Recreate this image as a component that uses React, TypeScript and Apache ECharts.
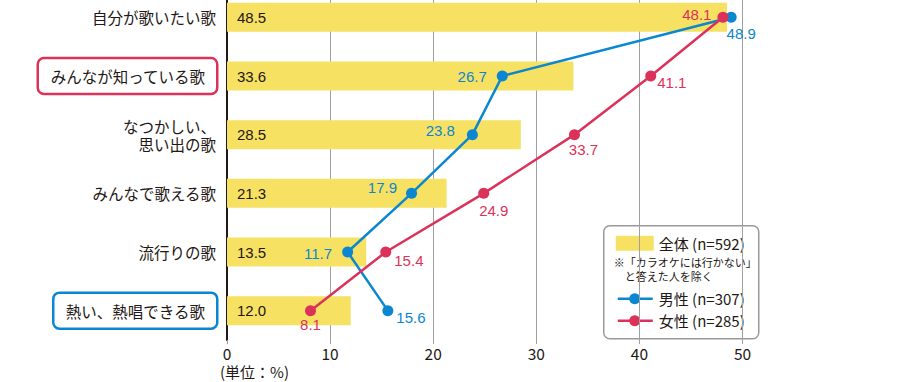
import React, { useEffect, useRef } from 'react';
import * as echarts from 'echarts';

const categories = [
  '自分が歌いたい歌',
  'みんなが知っている歌',
  'なつかしい、\n思い出の歌',
  'みんなで歌える歌',
  '流行りの歌',
  '熱い、熱唱できる歌',
];
const totalValues = [48.5, 33.6, 28.5, 21.3, 13.5, 12.0];
const maleValues = [48.9, 26.7, 23.8, 17.9, 11.7, 15.6];
const femaleValues = [48.1, 41.1, 33.7, 24.9, 15.4, 8.1];
const xTicks = [0, 10, 20, 30, 40, 50];
const legendNames = ['全体 (n=592)', '男性 (n=307)', '女性 (n=285)'];
const legendNote = ['※「カラオケには行かない」', '　と答えた人を除く'];
const unitLabel = '(単位：%)';
const redBoxCategory = 'みんなが知っている歌';
const blueBoxCategory = '熱い、熱唱できる歌';

const YELLOW = '#F6E163';
const BLUE = '#0B86D1';
const RED = '#DC3259';
const TEXT = '#231815';
const JP = "'Noto Sans CJK JP', 'Noto Sans', sans-serif";
const NUM = "'Liberation Sans', Arial, sans-serif";
const SHIFT = 20; // chart canvas starts 20px above the page top

// label placement styles (not data)
const maleLabelStyle = [
  { position: 'bottom', distance: 3, offset: [10, 0] },
  { position: 'left', distance: 10, offset: [0, 0] },
  { position: 'left', distance: 12, offset: [0, -4] },
  { position: 'left', distance: 9, offset: [0, -6] },
  { position: 'left', distance: 10, offset: [0, 1] },
  { position: 'right', distance: 3, offset: [0, 7] },
];
const femaleLabelStyle = [
  { position: 'left', distance: 6, offset: [0, -3] },
  { position: 'right', distance: 1, offset: [0, 6] },
  { position: 'bottom', distance: 2, offset: [9, 0] },
  { position: 'bottom', distance: 4, offset: [10, 0] },
  { position: 'right', distance: 3, offset: [0, 8] },
  { position: 'bottom', distance: 1, offset: [0, 0] },
];

export default function App() {
  const ref = useRef<HTMLDivElement>(null);
  useEffect(() => {
    document.body.style.margin = '0';
    if (!ref.current) return;
    const chart = echarts.init(ref.current, undefined, { renderer: 'svg' });
    const lx = 603;
    const ly = 225 + SHIFT;
    const option: any = {
      animation: false,
      backgroundColor: '#ffffff',
      grid: { left: 227, right: 157.5, top: SHIFT - 12, bottom: 42, containLabel: false },
      xAxis: {
        type: 'value',
        min: xTicks[0],
        max: xTicks[xTicks.length - 1],
        interval: 10,
        axisLine: { show: false },
        axisTick: { show: true, length: 4, lineStyle: { color: '#A0A0A0', width: 1 } },
        splitLine: { show: true, lineStyle: { color: '#A0A0A0', width: 1 } },
        axisLabel: {
          color: TEXT,
          fontFamily: JP,
          fontSize: 15.5,
          lineHeight: 15,
          margin: 5,
        },
      },
      yAxis: {
        type: 'category',
        data: categories,
        inverse: true,
        axisLine: { show: true, lineStyle: { color: TEXT, width: 2 } },
        axisTick: { show: false },
        splitLine: { show: false },
        axisLabel: {
          color: TEXT,
          fontFamily: JP,
          fontSize: 15.5,
          lineHeight: 18,
          margin: 11,
          formatter: (v: string) =>
            v === redBoxCategory ? `{r|${v}}` : v === blueBoxCategory ? `{b|${v}}` : v,
          rich: {
            r: {
              color: TEXT,
              fontFamily: JP,
              fontSize: 15.5,
              lineHeight: 18,
              borderColor: RED,
              borderWidth: 2.5,
              borderRadius: 5,
              backgroundColor: '#fff',
              padding: [9, 11, 9, 11],
            },
            b: {
              color: TEXT,
              fontFamily: JP,
              fontSize: 15.5,
              lineHeight: 18,
              borderColor: BLUE,
              borderWidth: 2.5,
              borderRadius: 5,
              backgroundColor: '#fff',
              padding: [9, 11, 9, 11],
            },
          },
        },
      },
      series: [
        {
          type: 'bar',
          data: totalValues,
          barWidth: 29,
          itemStyle: { color: YELLOW },
          z: 2,
          label: {
            show: true,
            position: 'insideLeft',
            distance: 10,
            color: TEXT,
            fontFamily: NUM,
            fontSize: 15,
            formatter: (p: any) => Number(p.value).toFixed(1),
          },
        },
        {
          type: 'line',
          data: maleValues.map((v, i) => ({
            value: v,
            label: { ...maleLabelStyle[i] },
          })),
          symbol: 'circle',
          symbolSize: 11,
          lineStyle: { color: BLUE, width: 2.5 },
          itemStyle: { color: BLUE },
          z: 4,
          label: {
            show: true,
            color: BLUE,
            fontFamily: NUM,
            fontSize: 15,
            formatter: (p: any) => Number(p.value).toFixed(1),
          },
        },
        {
          type: 'line',
          data: femaleValues.map((v, i) => ({
            value: v,
            label: { ...femaleLabelStyle[i] },
          })),
          symbol: 'circle',
          symbolSize: 11,
          lineStyle: { color: RED, width: 2.5 },
          itemStyle: { color: RED },
          z: 5,
          label: {
            show: true,
            color: RED,
            fontFamily: NUM,
            fontSize: 15,
            formatter: (p: any) => Number(p.value).toFixed(1),
          },
        },
      ],
      graphic: [
        {
          type: 'text',
          x: 220,
          y: 371.5 + SHIFT,
          style: {
            text: unitLabel,
            fill: TEXT,
            font: `15px ${JP}`,
            lineHeight: 15,
            verticalAlign: 'middle',
          },
        },
        {
          type: 'group',
          left: lx,
          top: ly,
          z: 10,
          children: [
            {
              type: 'rect',
              shape: { x: 0, y: 0, width: 155, height: 113, r: 6 },
              style: { fill: '#fff', stroke: '#9A9A9A', lineWidth: 1.5 },
            },
            {
              type: 'rect',
              shape: { x: 12, y: 10, width: 38, height: 15 },
              style: { fill: YELLOW },
            },
            {
              type: 'text',
              x: 55,
              y: 17.5,
              style: { text: legendNames[0], fill: TEXT, font: `15px ${JP}`, verticalAlign: 'middle' },
            },
            {
              type: 'text',
              x: 10,
              y: 36,
              style: {
                text: legendNote[0],
                fill: TEXT,
                font: `11px ${JP}`,
                lineHeight: 11,
                verticalAlign: 'middle',
              },
            },
            {
              type: 'text',
              x: 10,
              y: 50,
              style: {
                text: legendNote[1],
                fill: TEXT,
                font: `11px ${JP}`,
                lineHeight: 11,
                verticalAlign: 'middle',
              },
            },
            {
              type: 'line',
              shape: { x1: 14, y1: 73, x2: 49, y2: 73 },
              style: { stroke: BLUE, lineWidth: 2.5 },
            },
            { type: 'circle', shape: { cx: 31, cy: 73, r: 5.5 }, style: { fill: BLUE } },
            {
              type: 'text',
              x: 55,
              y: 73,
              style: { text: legendNames[1], fill: TEXT, font: `15px ${JP}`, verticalAlign: 'middle' },
            },
            {
              type: 'line',
              shape: { x1: 14, y1: 95, x2: 49, y2: 95 },
              style: { stroke: RED, lineWidth: 2.5 },
            },
            { type: 'circle', shape: { cx: 31, cy: 95, r: 5.5 }, style: { fill: RED } },
            {
              type: 'text',
              x: 55,
              y: 95,
              style: { text: legendNames[2], fill: TEXT, font: `15px ${JP}`, verticalAlign: 'middle' },
            },
          ],
        },
      ],
    };
    chart.setOption(option);
    return () => chart.dispose();
  }, []);
  return (
    <div
      ref={ref}
      style={{ position: 'absolute', left: 0, top: -SHIFT, width: 900, height: 382 + SHIFT }}
    />
  );
}
